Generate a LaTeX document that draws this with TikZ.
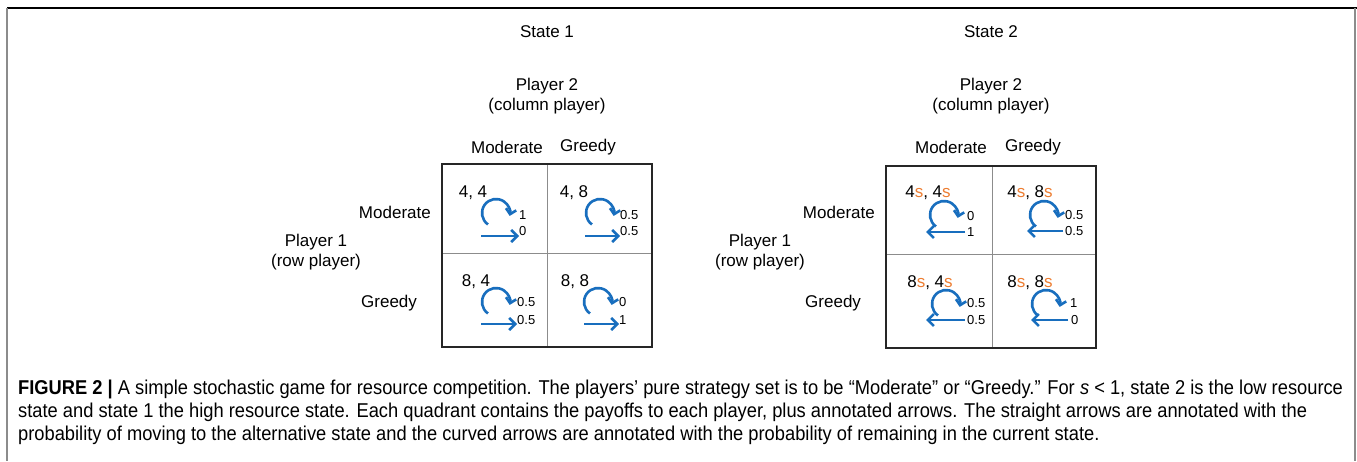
\documentclass[tikz,border=0pt]{standalone}
\usepackage{fontspec}
\setmainfont{Liberation Sans}
\newfontfamily\capfont[FakeStretch=0.915]{Liberation Sans}
\usetikzlibrary{arrows.meta}
\definecolor{arrblue}{RGB}{24,110,190}
\definecolor{orng}{RGB}{237,125,49}
\definecolor{framegray}{RGB}{140,140,140}
\newcommand\os{{\color{orng}s}}
\begin{document}
\begin{tikzpicture}[x=1pt,y=1pt,
  txt/.style={font=\fontsize{17}{20}\selectfont, inner sep=0pt, align=center},
  pay/.style={font=\fontsize{17}{18}\selectfont, inner sep=0pt},
  lab/.style={font=\fontsize{13}{14}\selectfont, inner sep=0pt, anchor=west},
  arr/.style={draw=arrblue, line width=2.6pt, -{Straight Barb[length=6pt,width=12pt]}},
  carr/.style={draw=arrblue, line width=2.6pt, -{Straight Barb[length=5pt,width=10.5pt]}},
  outer/.style={draw=black!85, line width=1.3pt},
  inner/.style={draw=black!45, line width=0.9pt},
  captext/.style={font=\capfont\fontsize{20}{23}\selectfont, inner sep=0pt, anchor=west}]
\useasboundingbox (0,0) rectangle (1357,-461);
\fill[white] (0,0) rectangle (1357,-461);
% frame
\draw[black, line width=1.5pt] (7,-8) -- (1357,-8);
\draw[framegray, line width=2pt] (7,-8) -- (7,-461);
\draw[framegray, line width=2pt] (1355,-8) -- (1355,-461);

% ---------------- State 1 ----------------
\node[txt] (s1) at (547,-32) {State 1};
\node[txt] (pl2a) at (547,-96.5) {Player 2\\(column player)};
\node[txt] (h1m) at (507,-147) {Moderate};
\node[txt] (h1g) at (588,-147) {Greedy};
\node[txt, anchor=east] (r1m) at (431,-212) {Moderate};
\node[txt, anchor=west] (r1g) at (361,-303) {Greedy};
\node[txt] (pl1a) at (316,-252) {Player 1\\(row player)};
\draw[inner] (547,-164) -- (547,-347);
\draw[inner] (442,-253) -- (652,-253);
\draw[outer] (442,-164) rectangle (652,-347);

% TL
\node[pay] (p11) at (473,-193) {4, 4};
\coordinate (c11) at (496,-213);
\node[lab] (u11) at (519,-215) {1};
\node[lab] (d11) at (519,-231) {0};
\coordinate (t11) at (481,-236);
\draw[carr] ([shift={(235:14)}]c11) arc[start angle=235,end angle=-12,radius=14];
\draw[arr] (t11) -- (t11 -| d11.west);
% TR
\node[pay] (p12) at (574,-193) {4, 8};
\coordinate (c12) at (600,-213);
\node[lab] (u12) at (620,-215) {0.5};
\node[lab] (d12) at (620,-231) {0.5};
\coordinate (t12) at (585,-236);
\draw[carr] ([shift={(235:14)}]c12) arc[start angle=235,end angle=-12,radius=14];
\draw[arr] (t12) -- (t12 -| d12.west);
% BL
\node[pay] (p13) at (476,-282) {8, 4};
\coordinate (c13) at (496,-302);
\node[lab] (u13) at (517,-302) {0.5};
\node[lab] (d13) at (517,-320) {0.5};
\coordinate (t13) at (481,-324);
\draw[carr] ([shift={(235:14)}]c13) arc[start angle=235,end angle=-12,radius=14];
\draw[arr] (t13) -- (t13 -| d13.west);
% BR
\node[pay] (p14) at (575,-282) {8, 8};
\coordinate (c14) at (598,-302);
\node[lab] (u14) at (619,-302) {0};
\node[lab] (d14) at (619,-320) {1};
\coordinate (t14) at (584,-324);
\draw[carr] ([shift={(235:14)}]c14) arc[start angle=235,end angle=-12,radius=14];
\draw[arr] (t14) -- (t14 -| d14.west);

% ---------------- State 2 ----------------
\node[txt] (s2) at (991,-32) {State 2};
\node[txt] (pl2b) at (991,-96.5) {Player 2\\(column player)};
\node[txt] (h2m) at (951,-147) {Moderate};
\node[txt] (h2g) at (1033,-147) {Greedy};
\node[txt, anchor=east] (r2m) at (875,-212) {Moderate};
\node[txt, anchor=west] (r2g) at (805,-303) {Greedy};
\node[txt] (pl1b) at (760,-252) {Player 1\\(row player)};
\draw[inner] (992,-166) -- (992,-348);
\draw[inner] (886,-254) -- (1096,-254);
\draw[outer] (886,-166) rectangle (1096,-348);

% TL
\node[pay] (q11) at (928,-193) {4\os, 4\os};
\coordinate (e11) at (944,-215);
\node[lab] (v11) at (967,-216) {0};
\node[lab] (w11) at (967,-232) {1};
\coordinate (h11) at (926,-232);
\draw[carr] ([shift={(235:14)}]e11) arc[start angle=235,end angle=-12,radius=14];
\draw[arr, shorten <=2pt] (w11.west) -- (h11);
% TR
\node[pay] (q12) at (1030,-193) {4\os, 8\os};
\coordinate (e12) at (1044,-215);
\node[lab] (v12) at (1065,-215) {0.5};
\node[lab] (w12) at (1065,-231) {0.5};
\coordinate (h12) at (1027,-231);
\draw[carr] ([shift={(235:14)}]e12) arc[start angle=235,end angle=-12,radius=14];
\draw[arr, shorten <=2pt] (w12.west) -- (h12);
% BL
\node[pay] (q13) at (930,-283) {8\os, 4\os};
\coordinate (e13) at (946,-304);
\node[lab] (v13) at (967,-303) {0.5};
\node[lab] (w13) at (967,-320) {0.5};
\coordinate (h13) at (926,-320);
\draw[carr] ([shift={(235:14)}]e13) arc[start angle=235,end angle=-12,radius=14];
\draw[arr, shorten <=2pt] (w13.west) -- (h13);
% BR
\node[pay] (q14) at (1030,-283) {8\os, 8\os};
\coordinate (e14) at (1046,-304);
\node[lab] (v14) at (1070,-303) {1};
\node[lab] (w14) at (1071,-320) {0};
\coordinate (h14) at (1031,-320);
\draw[carr] ([shift={(235:14)}]e14) arc[start angle=235,end angle=-12,radius=14];
\draw[arr, shorten <=3pt] (w14.west) -- (h14);

% ---------------- Caption ----------------
\node[captext] (cap1) at (18,-389) {\textbf{FIGURE 2 |} A simple stochastic game for resource competition. The players’ pure strategy set is to be “Moderate” or “Greedy.” For \textit{s} < 1, state 2 is the low resource};
\node[captext] (cap2) at (18,-412) {state and state 1 the high resource state. Each quadrant contains the payoffs to each player, plus annotated arrows. The straight arrows are annotated with the};
\node[captext] (cap3) at (18,-435) {probability of moving to the alternative state and the curved arrows are annotated with the probability of remaining in the current state.};
\end{tikzpicture}
\end{document}
